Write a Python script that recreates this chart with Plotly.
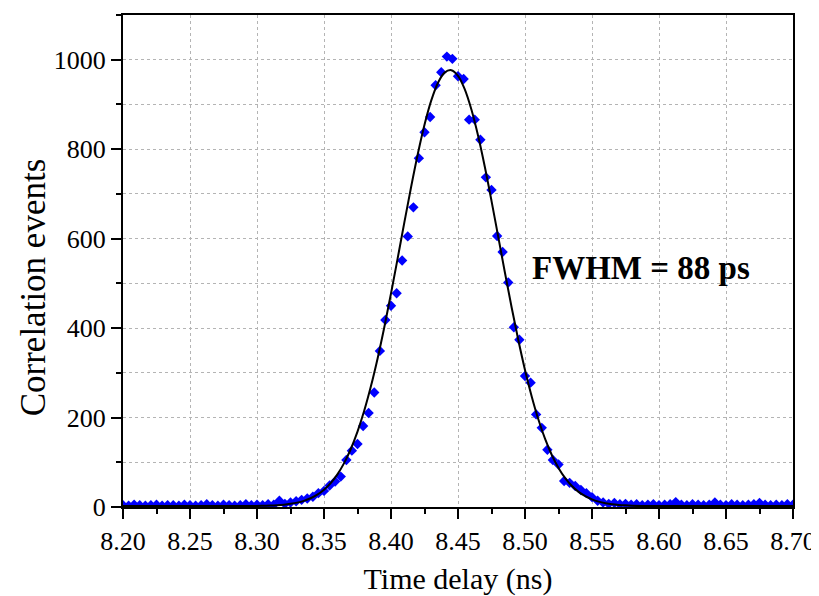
import plotly.graph_objects as go

# Measured data (time delay in ns, correlation events)
time_ns = [
    8.2000, 8.2042, 8.2083, 8.2125, 8.2167, 8.2208, 8.2250, 8.2292, 8.2333, 8.2375, 8.2417, 8.2458,
    8.2500, 8.2542, 8.2583, 8.2625, 8.2667, 8.2708, 8.2750, 8.2792, 8.2833, 8.2875, 8.2917, 8.2958,
    8.3000, 8.3042, 8.3083, 8.3125, 8.3167, 8.3208, 8.3250, 8.3292, 8.3333, 8.3375, 8.3417, 8.3458,
    8.3500, 8.3542, 8.3583, 8.3625, 8.3667, 8.3708, 8.3750, 8.3792, 8.3833, 8.3875, 8.3917, 8.3958,
    8.4000, 8.4042, 8.4083, 8.4125, 8.4167, 8.4208, 8.4250, 8.4292, 8.4333, 8.4375, 8.4417, 8.4458,
    8.4500, 8.4542, 8.4583, 8.4625, 8.4667, 8.4708, 8.4750, 8.4792, 8.4833, 8.4875, 8.4917, 8.4958,
    8.5000, 8.5042, 8.5083, 8.5125, 8.5167, 8.5208, 8.5250, 8.5292, 8.5333, 8.5375, 8.5417, 8.5458,
    8.5500, 8.5542, 8.5583, 8.5625, 8.5667, 8.5708, 8.5750, 8.5792, 8.5833, 8.5875, 8.5917, 8.5958,
    8.6000, 8.6042, 8.6083, 8.6125, 8.6167, 8.6208, 8.6250, 8.6292, 8.6333, 8.6375, 8.6417, 8.6458,
    8.6500, 8.6542, 8.6583, 8.6625, 8.6667, 8.6708, 8.6750, 8.6792, 8.6833, 8.6875, 8.6917, 8.6958,
    8.7000,
]
events = [
    4, 3, 5, 4, 3, 4, 5, 3, 4, 4, 3, 5,
    4, 3, 4, 6, 4, 3, 5, 4, 3, 4, 6, 4,
    5, 4, 6, 5, 14, 7, 10, 13, 16, 19, 23, 31,
    36, 48, 57, 68, 105, 126, 141, 181, 210, 256, 349, 418,
    450, 478, 551, 605, 670, 780, 838, 872, 943, 972, 1007, 1002,
    963, 957, 866, 866, 821, 737, 709, 606, 570, 502, 402, 374,
    293, 278, 207, 177, 128, 105, 95, 58, 54, 47, 38, 31,
    22, 14, 10, 7, 9, 6, 7, 5, 6, 4, 5, 6,
    4, 5, 6, 11, 5, 4, 6, 5, 4, 5, 10, 5,
    4, 6, 5, 4, 5, 6, 9, 5, 4, 5, 4, 6,
    5,
]

# Fitted curve
fit_time = [
    8.20, 8.25, 8.28, 8.29,
    8.300, 8.305, 8.310, 8.315, 8.320, 8.325, 8.330, 8.335, 8.340, 8.345,
    8.350, 8.355, 8.360, 8.365, 8.370, 8.375, 8.380, 8.385, 8.390, 8.395,
    8.400, 8.405, 8.410, 8.415, 8.420, 8.425, 8.430, 8.435, 8.440, 8.445,
    8.450, 8.455, 8.460, 8.465, 8.470, 8.475, 8.480, 8.485, 8.490, 8.495,
    8.500, 8.505, 8.510, 8.515, 8.520, 8.525, 8.530, 8.535, 8.540, 8.545,
    8.550, 8.555, 8.560, 8.565, 8.570, 8.575, 8.580,
    8.59, 8.60, 8.65, 8.70,
]
fit_counts = [
    2.0, 2.0, 2.0, 2.1,
    2.4, 2.8, 3.2, 4.0, 5.2, 7.1, 9.8, 13.8, 19.6, 27.6,
    38.7, 53.5, 73.0, 98.1, 129.7, 168.5, 215.1, 269.8, 332.2, 401.8,
    477.2, 556.4, 636.8, 715.5, 789.3, 854.7, 908.6, 948.1, 971.2, 976.6,
    964.0, 934.2, 888.6, 829.8, 760.6, 684.5, 604.6, 524.4, 446.5, 373.3,
    306.4, 247.0, 195.5, 152.1, 116.3, 87.4, 64.6, 47.1, 33.8, 24.1,
    17.1, 12.1, 8.6, 6.2, 4.7, 3.7, 3.0,
    2.4, 2.1, 2.0, 2.0,
]

x_ticks = [8.20, 8.25, 8.30, 8.35, 8.40, 8.45, 8.50, 8.55, 8.60, 8.65, 8.70]
y_ticks = [0, 200, 400, 600, 800, 1000]

FONT = "'Liberation Serif', 'Times New Roman', Times, serif"
GRID = "#b4b4b4"

fig = go.Figure()
fig.add_trace(go.Scatter(
    x=time_ns, y=events, mode="markers",
    marker=dict(symbol="diamond", size=8, color="#0000ff", line=dict(width=0)),
    name="data", showlegend=False,
))
fig.add_trace(go.Scatter(
    x=fit_time, y=fit_counts, mode="lines",
    line=dict(color="black", width=2, shape="spline"),
    name="fit", showlegend=False,
))

fig.add_annotation(
    x=8.5035, y=535, xref="x", yref="y", xanchor="left", yanchor="middle",
    text="<b>FWHM = 88 ps</b>", showarrow=False,
    font=dict(family=FONT, size=33, color="black"),
)
# y-axis title (placed as in the reference, slightly below the axis centre)
fig.add_annotation(
    x=-0.134, y=0.447, xref="paper", yref="paper", xanchor="center", yanchor="middle",
    text="Correlation events", textangle=-90, showarrow=False,
    font=dict(family=FONT, size=35, color="black"),
)

# page body adds an 8px offset, so the figure is 811x588
fig.update_layout(
    width=811, height=588,
    margin=dict(l=115, r=26, t=7, b=89),
    paper_bgcolor="white", plot_bgcolor="white",
    font=dict(family=FONT, size=26, color="black"),
)
fig.update_xaxes(
    range=[8.20, 8.70], tickvals=x_ticks, ticktext=[f"{v:.2f}" for v in x_ticks],
    ticks="outside", ticklen=10, tickwidth=2, tickcolor="black",
    showline=True, linewidth=2, linecolor="black", mirror=True,
    showgrid=True, gridcolor=GRID, griddash="dot", gridwidth=1,
    zeroline=False, automargin=False,
    minor=dict(dtick=0.025, tick0=8.2, ticks="outside", ticklen=5, tickwidth=2,
               tickcolor="black", showgrid=False),
    tickfont=dict(family=FONT, size=26, color="black"),
    title=dict(text="Time delay (ns)", font=dict(family=FONT, size=30, color="black"), standoff=14),
)
fig.update_yaxes(
    range=[0, 1100], tickvals=y_ticks,
    ticks="outside", ticklen=10, tickwidth=2, tickcolor="black",
    showline=True, linewidth=2, linecolor="black", mirror=True,
    showgrid=True, gridcolor=GRID, griddash="dot", gridwidth=1,
    zeroline=False, automargin=False,
    minor=dict(dtick=100, tick0=0, ticks="outside", ticklen=5, tickwidth=2,
               tickcolor="black", showgrid=True, gridcolor=GRID, griddash="dot", gridwidth=1),
    tickfont=dict(family=FONT, size=26, color="black"),
)

fig.write_html("out.html")
